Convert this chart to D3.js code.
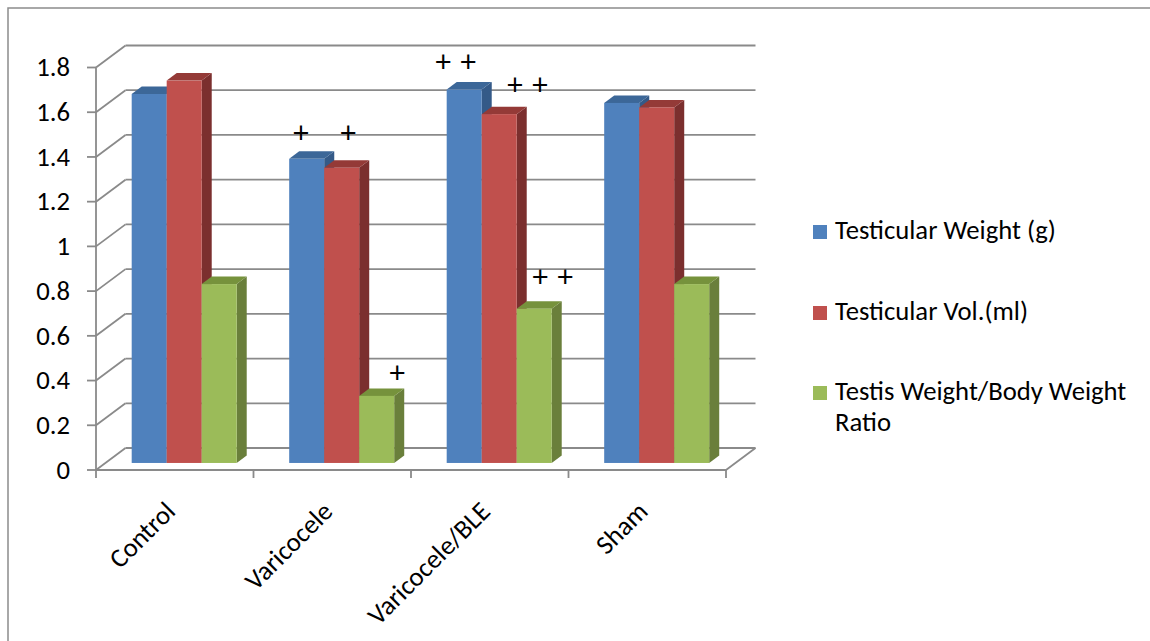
<!DOCTYPE html>
<html><head><meta charset="utf-8">
<script src="https://cdn.jsdelivr.net/npm/d3@7"></script>
<style>body{margin:0;background:#fff} svg{display:block}</style>
</head><body>
<svg id="c" width="1150" height="641"></svg>
<script>
// ---------- data ----------
const categories = ["Control", "Varicocele", "Varicocele/BLE", "Sham"];
const seriesNames = ["Testicular Weight (g)", "Testicular Vol.(ml)", "Testis Weight/Body Weight Ratio"];
const testicularWeight = [1.65, 1.36, 1.67, 1.61];
const testicularVol = [1.71, 1.32, 1.56, 1.59];
const weightRatio = [0.80, 0.30, 0.69, 0.80];
const yTicks = [0, 0.2, 0.4, 0.6, 0.8, 1, 1.2, 1.4, 1.6, 1.8];
const yTickLabels = ["0", "0.2", "0.4", "0.6", "0.8", "1", "1.2", "1.4", "1.6", "1.8"];
// significance marks: category, series, text, horizontal position in bar widths, value level
const annotations = [
  {category: "Varicocele", series: 0, text: "+", at: 0.34, value: 1.478},
  {category: "Varicocele", series: 1, text: "+", at: 0.69, value: 1.478},
  {category: "Varicocele", series: 2, text: "+", at: 1.09, value: 0.406},
  {category: "Varicocele/BLE", series: 0, text: "+ +", at: 0.26, value: 1.795},
  {category: "Varicocele/BLE", series: 1, text: "+ +", at: 1.31, value: 1.692},
  {category: "Varicocele/BLE", series: 2, text: "+ +", at: 1.03, value: 0.835}
];

// ---------- styling ----------
const seriesValues = [testicularWeight, testicularVol, weightRatio];
const frontColors = ["#4F81BD", "#C0504D", "#9BBB59"];
const topColors   = ["#3C6798", "#943A37", "#76923C"];
const sideColors  = ["#345A88", "#7B2F2E", "#6A7F3B"];
const gridColor = "#8A8A8A";
const FONT = "Carlito, Lato, 'Open Sans', sans-serif";

const svg = d3.select("#c");

// font size so that text metrics match the reference (Calibri-like at ~26px)
const probe = svg.append("text").attr("font-family", FONT).attr("font-size", 26).text("Testicular Weight (g)");
const pw = probe.node().getComputedTextLength();
probe.remove();
const FS = 26 * 221 / pw;

// ---------- 3D geometry ----------
const X0 = 96, X1 = 726;
const DX = 29.5, DY = -22;      // full depth offset
const d0 = 0.32, d1 = 0.66;     // bar depth range

const x = d3.scaleBand().domain(categories).range([X0, X1]).padding(0);
const xs = d3.scaleBand().domain([0, 1, 2]).range([0, x.bandwidth()]).paddingInner(0).paddingOuter(0.75);
const y = d3.scaleLinear().domain([0, 1.8]).range([470, 67.5]);

// outer frame
svg.append("rect").attr("x", 8).attr("y", 8).attr("width", 1160).attr("height", 700)
  .attr("fill", "none").attr("stroke", "#8C8C8C").attr("stroke-width", 1.5);

// back wall gridlines
const g = svg.append("g");
g.selectAll("line.grid").data(yTicks).join("line")
  .attr("x1", X0 + DX).attr("x2", X1 + DX)
  .attr("y1", d => y(d) + DY).attr("y2", d => y(d) + DY)
  .attr("stroke", gridColor).attr("stroke-width", 1.8);
// side wall gridlines
g.selectAll("line.side").data(yTicks).join("line")
  .attr("x1", X0).attr("x2", X0 + DX)
  .attr("y1", d => y(d)).attr("y2", d => y(d) + DY)
  .attr("stroke", gridColor).attr("stroke-width", 1.8);
// floor right edge and front edge
g.append("line").attr("x1", X1).attr("y1", y(0)).attr("x2", X1 + DX).attr("y2", y(0) + DY)
  .attr("stroke", gridColor).attr("stroke-width", 1.8);
g.append("line").attr("x1", X0).attr("y1", y(0)).attr("x2", X1).attr("y2", y(0))
  .attr("stroke", gridColor).attr("stroke-width", 1.8);
// y axis
g.append("line").attr("x1", X0).attr("y1", y(0)).attr("x2", X0).attr("y2", y(1.8))
  .attr("stroke", gridColor).attr("stroke-width", 1.8);
g.selectAll("line.ytick").data(yTicks).join("line")
  .attr("x1", X0 - 9).attr("x2", X0).attr("y1", d => y(d)).attr("y2", d => y(d))
  .attr("stroke", gridColor).attr("stroke-width", 1.8);
// x ticks at category boundaries
const bounds = categories.map(c => x(c)).concat([X1]);
g.selectAll("line.xtick").data(bounds).join("line")
  .attr("x1", d => d).attr("x2", d => d).attr("y1", y(0)).attr("y2", y(0) + 8)
  .attr("stroke", gridColor).attr("stroke-width", 1.8);

// y tick labels
svg.selectAll("text.ylab").data(yTicks).join("text")
  .attr("x", 70).attr("y", d => y(d)).attr("dy", "0.33em")
  .attr("text-anchor", "end").attr("font-family", FONT).attr("font-size", FS).attr("fill", "#000")
  .text((d, i) => yTickLabels[i]);

// bars
const ox = DX * d0, oy = DY * d0;
const ddx = DX * (d1 - d0), ddy = DY * (d1 - d0);
const bars = [];
categories.forEach((c, ci) => {
  seriesValues.forEach((vals, si) => {
    bars.push({c, ci, si, v: vals[ci]});
  });
});
const bw = xs.bandwidth();
const bg = svg.append("g");
bars.forEach(b => {
  const xl = x(b.c) + xs(b.si) + ox;
  const yt = y(b.v) + oy, yb = y(0) + oy;
  const xr = xl + bw;
  bg.append("polygon").attr("points", [[xr, yt], [xr + ddx, yt + ddy], [xr + ddx, yb + ddy], [xr, yb]].join(" "))
    .attr("fill", sideColors[b.si]);
  bg.append("polygon").attr("points", [[xl, yt], [xl + ddx, yt + ddy], [xr + ddx, yt + ddy], [xr, yt]].join(" "))
    .attr("fill", topColors[b.si]);
  bg.append("rect").attr("x", xl).attr("y", yt).attr("width", bw).attr("height", yb - yt)
    .attr("fill", frontColors[b.si]);
});

// annotations
svg.selectAll("text.ann").data(annotations).join("text")
  .attr("x", d => x(d.category) + xs(d.series) + ox + d.at * bw)
  .attr("y", d => y(d.value) + oy)
  .attr("dy", "0.36em")
  .attr("text-anchor", "middle")
  .attr("font-family", "'Liberation Sans', Arial, sans-serif").attr("font-size", 29)
  .style("white-space", "pre")
  .text(d => d.text);

// category labels
svg.selectAll("text.xlab").data(categories).join("text")
  .attr("transform", d => `translate(${x(d) + x.bandwidth() / 2 + 2},513) rotate(-45)`)
  .attr("text-anchor", "end").attr("font-family", FONT).attr("font-size", FS).attr("fill", "#000")
  .text(d => d);

// legend
const legendY = [232, 313, 393];
const lg = svg.append("g");
seriesNames.forEach((name, i) => {
  lg.append("rect").attr("x", 813).attr("y", legendY[i] - 7).attr("width", 14).attr("height", 14)
    .attr("fill", frontColors[i]);
  const t = lg.append("text").attr("x", 835).attr("y", legendY[i] + 7)
    .attr("font-family", FONT).attr("font-size", FS).attr("fill", "#000");
  const words = name.split(" ");
  let line = [];
  let ts = t.append("tspan").attr("x", 835).attr("dy", 0);
  words.forEach(w => {
    line.push(w);
    ts.text(line.join(" "));
    if (ts.node().getComputedTextLength() > 300 && line.length > 1) {
      line.pop();
      ts.text(line.join(" "));
      line = [w];
      ts = t.append("tspan").attr("x", 835).attr("dy", 31).text(w);
    }
  });
});
</script>
</body></html>
